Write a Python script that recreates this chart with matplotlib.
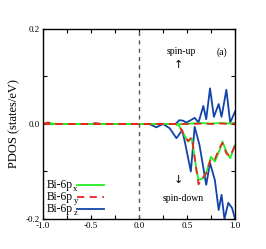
import matplotlib
matplotlib.use("Agg")
import matplotlib.pyplot as plt
from matplotlib.ticker import MultipleLocator, FixedLocator, FuncFormatter

plt.rcParams['font.family'] = ['Liberation Serif', 'DejaVu Serif']

# ---- data ----
# spin-up
e_up_z = [-1.0, 0.38, 0.42, 0.46, 0.49, 0.53, 0.58, 0.62, 0.67, 0.70, 0.74, 0.78, 0.83, 0.86, 0.91, 0.95, 1.0]
pz_up = [0.0, 0.0, 0.008, 0.007, 0.003, 0.007, 0.013, 0.003, 0.038, 0.010, 0.075, 0.015, 0.042, 0.015, 0.072, 0.003, 0.026]
e_up_xy = [-1.0, -0.95, -0.90, -0.85, -0.80, -0.50, -0.45, -0.40, 0.45, 0.55, 0.65, 0.75, 0.85, 0.95, 1.0]
px_up = [0.0, 0.003, 0.001, 0.0, 0.0, 0.0, 0.001, 0.0, 0.0, 0.001, 0.002, 0.001, 0.002, 0.001, 0.002]
py_up = [0.0, 0.003, 0.002, 0.0, 0.0, 0.0, 0.002, 0.0, 0.0, 0.0, 0.001, 0.0, 0.001, 0.0, 0.001]

# spin-down
e_dn_z = [-1.0, 0.10, 0.13, 0.18, 0.25, 0.32, 0.39, 0.45, 0.48, 0.54, 0.58, 0.63, 0.70, 0.74, 0.79, 0.83,
          0.86, 0.89, 0.93, 0.97, 1.0]
pz_dn = [0.0, 0.0, -0.002, -0.007, 0.0, -0.009, -0.030, -0.013, -0.040, -0.100, -0.006, -0.044, -0.128,
         -0.082, -0.118, -0.181, -0.149, -0.200, -0.166, -0.177, -0.200]
e_dn_xy = [-1.0, 0.38, 0.42, 0.46, 0.51, 0.55, 0.60, 0.62, 0.67, 0.70, 0.75, 0.79, 0.84, 0.87, 0.91, 0.95, 1.0]
px_dn = [0.0, 0.0, -0.004, -0.019, -0.037, -0.030, -0.097, -0.118, -0.114, -0.103, -0.069, -0.079, -0.055,
         -0.037, -0.058, -0.072, -0.044]
py_dn = [0.0, 0.0, -0.004, -0.020, -0.036, -0.028, -0.100, -0.127, -0.112, -0.104, -0.072, -0.074, -0.050,
         -0.040, -0.062, -0.068, -0.045]

label_base = 'Bi-6p'
label_subs = ['x', 'y', 'z']
colors = ['#22ee22', '#ee2222', '#1144aa']

fig = plt.figure(figsize=(2.66, 2.49), dpi=100)
ax = fig.add_axes([43/266, 1 - 219/249, 192/266, 190/249])

lw = 1.3
ax.plot(e_up_z, pz_up, color=colors[2], lw=lw)
ax.plot(e_dn_z, pz_dn, color=colors[2], lw=lw)
ax.plot(e_up_xy, px_up, color=colors[0], lw=lw)
ax.plot(e_dn_xy, px_dn, color=colors[0], lw=lw)
ax.plot(e_up_xy, py_up, color=colors[1], lw=lw, dashes=(4, 3))
ax.plot(e_dn_xy, py_dn, color=colors[1], lw=lw, dashes=(4, 3))

ax.axvline(0.0, color='#555555', lw=1.0, dashes=(3, 3))

ax.set_xlim(-1.0, 1.0)
ax.set_ylim(-0.2, 0.2)

ax.xaxis.set_major_locator(MultipleLocator(0.5))
ax.xaxis.set_minor_locator(MultipleLocator(0.25))
ax.yaxis.set_major_locator(FixedLocator([-0.2, 0.0, 0.2]))
ax.yaxis.set_minor_locator(FixedLocator([-0.1, 0.1]))
ax.xaxis.set_major_formatter(FuncFormatter(lambda v, p: f'{v:.1f}'))
ax.yaxis.set_major_formatter(FuncFormatter(lambda v, p: f'{v:.1f}'))
ax.tick_params(which='both', direction='in', top=True, right=True, labelsize=6.5, length=3, width=0.8, pad=2)
for s in ax.spines.values():
    s.set_linewidth(1.0)

ax.set_ylabel('PDOS (states/eV)', fontsize=9, labelpad=4)

# legend built manually from labels
for i, (sub, c) in enumerate(zip(label_subs, colors)):
    yy = 185 + i * 12
    yfrac = 1 - (yy - 29) / 190
    t = ax.text(4/192, yfrac, label_base, transform=ax.transAxes, fontsize=8.3, va='center', ha='left')
    ax.annotate(sub, xy=(1.0, 0.5), xycoords=t, xytext=(0.2, -2.6), textcoords='offset points',
                fontsize=6.2, ha='left', va='center')
    ls = (0, (4, 3)) if i == 1 else '-'
    ax.plot([34/192, 61/192], [yfrac, yfrac], transform=ax.transAxes, color=c, lw=1.3, ls=ls)

ax.text(0.44, 0.152, 'spin-up', fontsize=7, ha='center', va='center')
ax.text(0.41, 0.124, '\u2191', fontsize=8, ha='center', va='center', family=['DejaVu Sans'])
ax.text(0.41, -0.118, '\u2193', fontsize=8, ha='center', va='center', family=['DejaVu Sans'])
ax.text(0.46, -0.156, 'spin-down', fontsize=7, ha='center', va='center')
ax.text(0.86, 0.152, '(a)', fontsize=7, ha='center', va='center')

fig.savefig('out.png', dpi=100)
